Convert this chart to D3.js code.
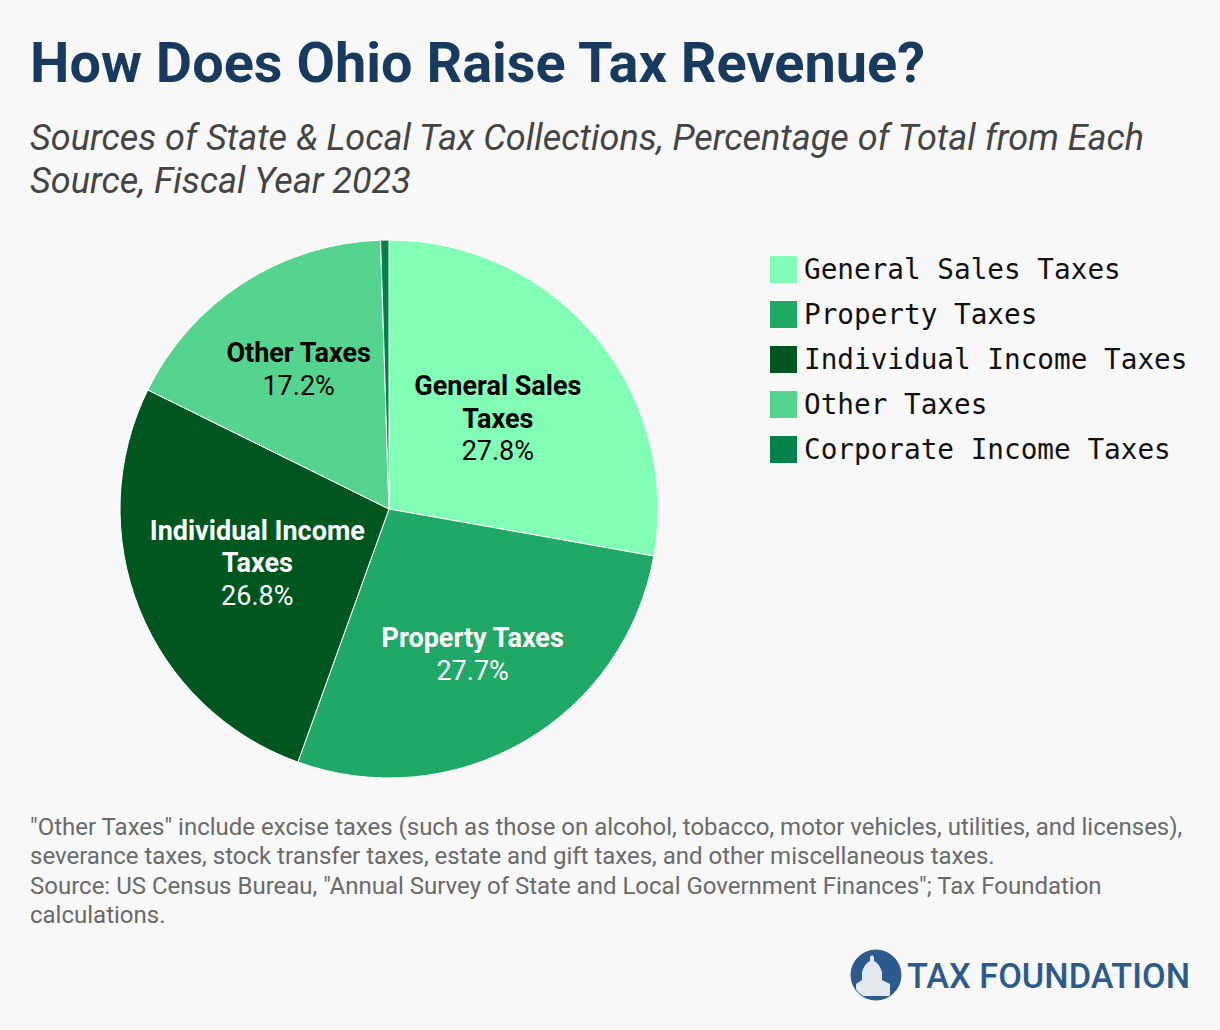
<!DOCTYPE html>
<html>
<head>
<meta charset="utf-8">
<script src="https://cdn.jsdelivr.net/npm/d3@7"></script>
<style>
  body { margin: 0; background: #f8f8f8; }
  svg { display: block; font-family: Roboto, "Noto Sans", sans-serif; }
</style>
</head>
<body>
<div id="chart"></div>
<script>
// Données
const categories = ["General Sales Taxes", "Property Taxes", "Individual Income Taxes", "Other Taxes", "Corporate Income Taxes"];
const values = [27.8, 27.7, 26.8, 17.2, 0.5];
const couleurs = ["#82fdb5", "#1fa866", "#00561f", "#55d48f", "#00824a"];
const labelLines = [["General Sales", "Taxes"], ["Property Taxes"], ["Individual Income", "Taxes"], ["Other Taxes"], []];
const labelColors = ["#000", "#fff", "#fff", "#000", "#000"];

const notes = [
    "\"Other Taxes\" include excise taxes (such as those on alcohol, tobacco, motor vehicles, utilities, and licenses),",
    "severance taxes, stock transfer taxes, estate and gift taxes, and other miscellaneous taxes.",
    "Source: US Census Bureau, \"Annual Survey of State and Local Government Finances\"; Tax Foundation",
    "calculations."
];

const width = 1220;
const height = 1030;

const svg = d3.select("#chart").append("svg")
    .attr("width", width)
    .attr("height", height);

svg.append("rect").attr("width", width).attr("height", height).attr("fill", "#f8f8f8");

// Titre
svg.append("text")
    .attr("x", 30).attr("y", 82)
    .attr("font-size", 56).attr("font-weight", 700)
    .attr("fill", "#173a5e")
    .attr("textLength", 895).attr("lengthAdjust", "spacingAndGlyphs")
    .text("How Does Ohio Raise Tax Revenue?");

const subtitle = ["Sources of State & Local Tax Collections, Percentage of Total from Each", "Source, Fiscal Year 2023"];
svg.selectAll(".subtitle")
    .data(subtitle)
    .enter().append("text")
    .attr("class", "subtitle")
    .attr("x", 30)
    .attr("y", (d, i) => 150 + i * 43)
    .attr("font-size", 36).attr("font-style", "italic")
    .attr("fill", "#444")
    .text(d => d);

// Camembert
const cx = 389, cy = 509, radius = 269;
const data = categories.map((c, i) => ({ label: c, value: values[i], couleur: couleurs[i], lines: labelLines[i], labelColor: labelColors[i] }));

const pie = d3.pie().value(d => d.value).sort(null);
const arc = d3.arc().innerRadius(0).outerRadius(radius);
// les étiquettes à trois lignes sont placées un peu plus près du centre
const arc3 = d3.arc().innerRadius(142).outerRadius(142);
const arc2 = d3.arc().innerRadius(167).outerRadius(167);

const g = svg.append("g").attr("transform", `translate(${cx},${cy})`);

g.selectAll(".slice")
    .data(pie(data))
    .enter().append("path")
    .attr("class", "slice")
    .attr("d", arc)
    .attr("fill", d => d.data.couleur)
    .attr("stroke", "#fff")
    .attr("stroke-width", 1);

const lineH = 32.5;
const labels = g.selectAll(".pie-label")
    .data(pie(data).filter(d => d.data.value >= 5))
    .enter().append("text")
    .attr("class", "pie-label")
    .attr("text-anchor", "middle")
    .attr("font-size", 27)
    .attr("fill", d => d.data.labelColor)
    .attr("transform", d => `translate(${(d.data.lines.length > 1 ? arc3 : arc2).centroid(d)})`);

labels.each(function(d) {
    const lines = d.data.lines.concat([`${d.data.value.toFixed(1)}%`]);
    const t = d3.select(this);
    const y0 = -(lines.length - 1) * lineH / 2 + 10;
    lines.forEach((l, i) => {
        t.append("tspan")
            .attr("x", 0)
            .attr("y", y0 + i * lineH)
            .attr("font-weight", i < lines.length - 1 ? 700 : 400)
            .text(l);
    });
});

// Légende
const legend = svg.append("g").attr("transform", "translate(770,256)");
const items = legend.selectAll(".legend-item")
    .data(data)
    .enter().append("g")
    .attr("class", "legend-item")
    .attr("transform", (d, i) => `translate(0,${i * 45})`);

items.append("rect")
    .attr("width", 27).attr("height", 27)
    .attr("fill", d => d.couleur);

items.append("text")
    .attr("x", 34).attr("y", 23)
    .attr("font-family", "'DejaVu Sans Mono', 'Liberation Mono', monospace")
    .attr("font-size", 27.7)
    .attr("fill", "#111")
    .text(d => d.label);

// Notes
svg.selectAll(".note")
    .data(notes)
    .enter().append("text")
    .attr("class", "note")
    .attr("x", 30)
    .attr("y", (d, i) => 835 + i * 29.3)
    .attr("font-size", 24)
    .attr("fill", "#6a6a6a")
    .text(d => d);

// Logo
const logo = svg.append("g");
logo.append("circle").attr("cx", 876).attr("cy", 975).attr("r", 25).attr("fill", "#2c5a8c");
// dôme stylisé
logo.append("path")
    .attr("d", "M856,996 L856,984 L862,980 L862,972 Q865,963 870,961 L870,957 L872,955 L874,957 L874,961 Q879,963 882,972 L882,980 L890,984 L890,996 Z")
    .attr("fill", "#f8f8f8").attr("opacity", 0.9);
logo.append("circle").attr("cx", 876).attr("cy", 975).attr("r", 25).attr("fill", "none").attr("stroke", "#2c5a8c").attr("stroke-width", 1);
logo.append("text")
    .attr("x", 907).attr("y", 988)
    .attr("font-size", 35).attr("font-weight", 500)
    .attr("fill", "#2c5a8c")
    .attr("textLength", 283).attr("lengthAdjust", "spacingAndGlyphs")
    .text("TAX FOUNDATION");
</script>
</body>
</html>
